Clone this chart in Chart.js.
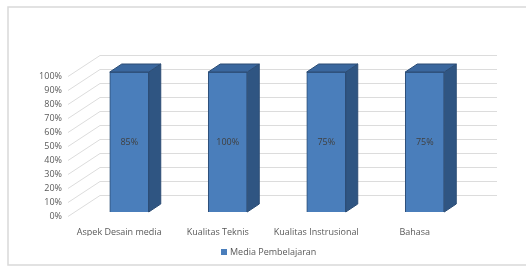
<!DOCTYPE html>
<html>
<head>
<meta charset="utf-8">
<script src="https://cdn.jsdelivr.net/npm/chart.js@4"></script>
<style>
    body { margin: 0; background: #fff; }
</style>
</head>
<body>
<canvas id="myChart" width="526" height="267"></canvas>
<script>
const categories = ['Aspek Desain media', 'Kualitas Teknis', 'Kualitas Instrusional', 'Bahasa'];
// bars are all drawn full height in the picture, labels carry the scores
const barValues = [100, 100, 100, 100];
const barLabels = ['85%', '100%', '75%', '75%'];
const seriesName = 'Media Pembelajaran';
const yTicks = [0, 10, 20, 30, 40, 50, 60, 70, 80, 90, 100];

const font = 'Open Sans';
const textGray = '#595959';
const barBlue = '#4a7ebb';

// excel style 3d look: back wall gridlines, bar side + top faces
const fake3d = {
    id: 'fake3d',
    beforeDraw: (chart) => {
        const ctx = chart.ctx;
        ctx.save();
        ctx.strokeStyle = '#d9d9d9';
        ctx.lineWidth = 1.5;
        ctx.strokeRect(8, 7, 560, 258);
        ctx.restore();
    },
    beforeDatasetsDraw: (chart) => {
        const ctx = chart.ctx;
        const y = chart.scales.y;
        const area = chart.chartArea;
        ctx.save();
        ctx.strokeStyle = '#dcdcdc';
        ctx.lineWidth = 1;
        yTicks.forEach(v => {
            const py = Math.round(y.getPixelForValue(v)) + 0.5;
            ctx.beginPath();
            ctx.moveTo(area.left - 12, py);
            ctx.lineTo(area.left + 20, py - 21);
            ctx.lineTo(area.right + 23, py - 21);
            ctx.stroke();
        });
        ctx.restore();
        ctx.save();
        ctx.translate(0, -4);
    },
    afterDatasetsDraw: (chart) => {
        const ctx = chart.ctx;
        const meta = chart.getDatasetMeta(0);
        const dx = 12, dy = -8;
        meta.data.forEach((bar, i) => {
            const p = bar.getProps(['x', 'y', 'base', 'width'], true);
            const l = p.x - p.width / 2, r = p.x + p.width / 2;
            ctx.lineWidth = 1;
            ctx.strokeStyle = '#2c4d75';
            // side
            ctx.fillStyle = '#2f5582';
            ctx.beginPath();
            ctx.moveTo(r, p.y);
            ctx.lineTo(r + dx, p.y + dy);
            ctx.lineTo(r + dx, p.base + dy);
            ctx.lineTo(r, p.base);
            ctx.closePath();
            ctx.fill();
            ctx.stroke();
            // top
            ctx.fillStyle = '#3a679e';
            ctx.beginPath();
            ctx.moveTo(l, p.y);
            ctx.lineTo(l + dx, p.y + dy);
            ctx.lineTo(r + dx, p.y + dy);
            ctx.lineTo(r, p.y);
            ctx.closePath();
            ctx.fill();
            ctx.stroke();
            // value label
            ctx.fillStyle = '#404040';
            ctx.font = '9px "' + font + '"';
            ctx.textAlign = 'center';
            ctx.textBaseline = 'middle';
            ctx.fillText(barLabels[i], p.x, (p.y + p.base) / 2);
        });
        ctx.restore();
    },
    afterDraw: (chart) => {
        // legend, drawn by hand so it can sit off centre like the original
        const ctx = chart.ctx;
        const ds = chart.data.datasets[0];
        ctx.save();
        ctx.fillStyle = ds.backgroundColor;
        ctx.fillRect(221, 249, 6, 6);
        ctx.fillStyle = textGray;
        ctx.font = '9px "' + font + '"';
        ctx.textAlign = 'left';
        ctx.textBaseline = 'middle';
        ctx.fillText(ds.label, 230, 252);
        ctx.restore();
    }
};

const ctx = document.getElementById('myChart').getContext('2d');
const myChart = new Chart(ctx, {
    type: 'bar',
    data: {
        labels: categories,
        datasets: [{
            label: seriesName,
            data: barValues,
            backgroundColor: barBlue,
            borderColor: '#2c4d75',
            borderWidth: 1,
            barThickness: 39,
            clip: false
        }]
    },
    options: {
        responsive: false,
        animation: false,
        layout: { padding: { left: 0, right: 52, top: 76, bottom: 31 } },
        scales: {
            x: {
                grid: { display: false, drawTicks: false },
                border: { display: false },
                ticks: { color: textGray, font: { family: font, size: 9 }, padding: 11, maxRotation: 0, labelOffset: -10 },
                afterFit: (s) => { s.height = 20; }
            },
            y: {
                min: 0,
                max: 100,
                grid: { display: false, drawTicks: false },
                border: { display: false },
                ticks: {
                    stepSize: 10,
                    padding: 18,
                    color: textGray,
                    font: { family: font, size: 9 },
                    callback: (value) => value + '%'
                },
                afterFit: (s) => { s.width = 80; }
            }
        },
        plugins: {
            legend: { display: false },
            tooltip: { enabled: false }
        }
    },
    plugins: [fake3d]
});
</script>
</body>
</html>
